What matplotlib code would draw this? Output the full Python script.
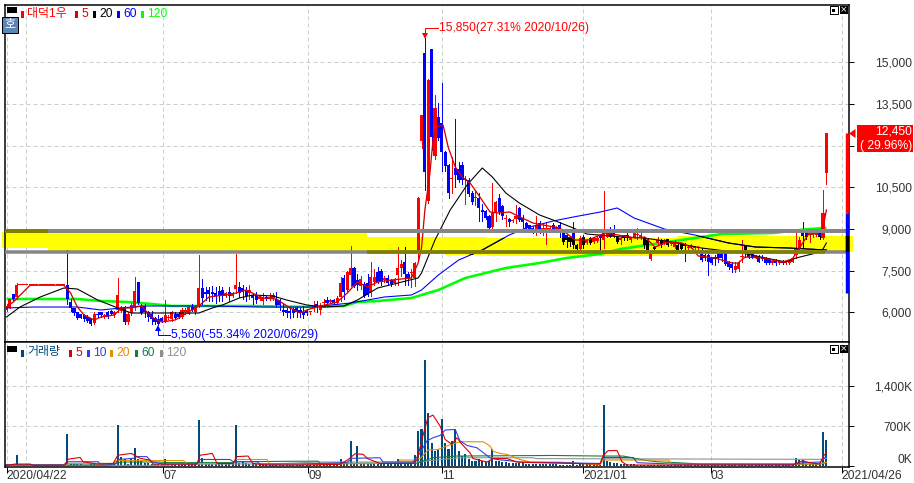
import numpy as np
import matplotlib
matplotlib.use('Agg')
import matplotlib.pyplot as plt
import matplotlib.transforms as mtransforms
from matplotlib.patches import Rectangle, Polygon

W, H = 914, 483
PX = 0.72  # one pixel in points at dpi 100

opens = [6100, 6150, 6650, 6550, 6980, 6980, 6980, 6980, 6980, 6980,
         6980, 6980, 6980, 6980, 6980, 6980, 6980, 6980, 6980, 6380,
         6150, 6000, 5950, 5900, 5850, 5800, 5620, 5950, 6000, 5850,
         6000, 6050, 5900, 6100, 6050, 6200, 5650, 5980, 6250, 7100,
         6250, 6250, 6000, 5950, 5800, 5750, 5800, 5700, 5800, 5750,
         5950, 5950, 5850, 6000, 5950, 6200, 6000, 6270, 6880, 6750,
         6800, 6750, 6700, 6780, 6800, 6600, 6750, 6600, 6830, 6930,
         6870, 6780, 6690, 6630, 6630, 6500, 6420, 6570, 6500, 6510,
         6500, 6450, 6100, 6090, 6050, 6110, 6150, 6090, 6030, 6050,
         6000, 6150, 6300, 6100, 6330, 6450, 6390, 6450, 6350, 6570,
         7230, 6800, 7350, 7590, 7170, 6950, 7010, 7050, 6690, 7110,
         7470, 7500, 7150, 7230, 7170, 7070, 7340, 7590, 7820, 7400,
         7410, 7230, 8230, 12150, 15320, 10000, 15470, 11620, 13030, 12800,
         11760, 11300, 10790, 11200, 11150, 11300, 10750, 10750, 10300, 10100,
         10100, 9700, 9650, 9450, 9060, 9600, 10110, 9820, 9370, 9350,
         9280, 9350, 9750, 9380, 9210, 9130, 9050, 8900, 9200, 9000,
         9000, 8980, 9150, 8980, 9160, 8900, 8780, 8720, 8900, 8420,
         8270, 8720, 8490, 8660, 8550, 8580, 8740, 8600, 8730, 8960,
         8990, 8720, 8600, 8780, 8780, 8600, 8730, 8780, 8700, 8660,
         8600, 7920, 8360, 8490, 8600, 8510, 8630, 8470, 8360, 8420,
         8480, 8450, 8300, 8370, 8300, 8300, 8120, 8050, 8050, 7950,
         8000, 8120, 8120, 8120, 7820, 7760, 7520, 7550, 7990, 8420,
         8120, 8120, 7990, 8000, 8000, 7950, 7910, 7790, 7890, 7770,
         7860, 7780, 7790, 7830, 8070, 8310, 8900, 8850, 8800, 8780,
         8800, 8850, 8690, 11000]
closes = [6250, 6500, 6500, 6980, 6980, 6980, 6980, 6980, 6980, 6980,
          6980, 6980, 6980, 6980, 6980, 6980, 6980, 6980, 6500, 6150,
          5980, 5800, 5800, 5750, 5700, 5600, 5950, 5900, 5900, 5900,
          5850, 5950, 6000, 6630, 6200, 5650, 5950, 6270, 6770, 6340,
          5990, 6000, 5850, 5750, 5650, 5600, 5700, 5900, 5830, 6000,
          5800, 5850, 6100, 6100, 6200, 6100, 6200, 6880, 6520, 6650,
          6650, 6650, 6600, 6600, 6600, 6700, 6600, 6700, 7000, 6700,
          6750, 6590, 6800, 6510, 6450, 6560, 6560, 6480, 6570, 6640,
          6270, 6270, 6000, 5970, 5970, 5970, 6000, 5970, 5900, 5970,
          6030, 6200, 6180, 6200, 6390, 6350, 6450, 6350, 6510, 7070,
          6750, 7470, 7590, 6950, 6990, 7190, 6590, 6630, 7290, 7290,
          7110, 7140, 7230, 7050, 7010, 7170, 7590, 7740, 7380, 7190,
          7430, 7790, 10110, 13100, 11050, 14350, 12300, 13350, 12270, 11760,
          11260, 10290, 10830, 10950, 10750, 10750, 10780, 10260, 9970, 10150,
          9750, 9600, 9400, 9050, 9580, 9970, 9600, 9480, 9410, 9250,
          9330, 9480, 9330, 9250, 9050, 8950, 8900, 9130, 8900, 9050,
          9050, 9050, 8950, 9050, 8950, 8550, 8600, 8540, 8420, 8270,
          8690, 8420, 8600, 8490, 8660, 8690, 8690, 8870, 8870, 8720,
          8750, 8540, 8680, 8660, 8660, 8660, 8870, 8800, 8790, 8420,
          8250, 8130, 8270, 8600, 8420, 8600, 8420, 8510, 8540, 8240,
          8270, 8400, 8340, 8400, 8330, 8330, 7890, 7950, 7820, 7790,
          7910, 7950, 7950, 7760, 7650, 7590, 7670, 7790, 8040, 8240,
          8000, 8000, 8030, 7830, 7940, 7770, 7790, 7860, 7770, 7820,
          7790, 7830, 7870, 7950, 8300, 8600, 8750, 8730, 8840, 8840,
          8840, 8730, 9590, 12450]
highs = [6300, 6500, 6650, 7050, 6980, 6980, 6980, 6980, 6980, 6980,
         6980, 6980, 6980, 6980, 6980, 6980, 6980, 6980, 8250, 6500,
         6150, 6000, 5950, 5950, 5900, 5800, 6000, 6000, 6000, 5950,
         6050, 6100, 6050, 7240, 6250, 6250, 6000, 6350, 7280, 7100,
         6300, 6300, 6050, 6050, 5850, 5900, 5850, 6450, 5900, 6050,
         6000, 6000, 6150, 6150, 6250, 6300, 6250, 8060, 7200, 6900,
         6900, 6950, 6900, 6950, 6900, 6750, 6900, 6750, 8100, 7100,
         7000, 6900, 7000, 6650, 6750, 6600, 6700, 6600, 6700, 6700,
         6750, 6500, 6300, 6150, 6200, 6150, 6200, 6150, 6250, 6100,
         6050, 6400, 6400, 6350, 6500, 6550, 6500, 6500, 6600, 7280,
         7350, 7500, 8390, 7650, 7400, 7300, 7100, 7400, 7800, 7550,
         7650, 7550, 7300, 7350, 7200, 7250, 8340, 7900, 8340, 7450,
         7550, 7800, 10150, 13100, 15850, 14400, 15470, 13800, 13530, 14250,
         11800, 11350, 11600, 12950, 11400, 11400, 10900, 10850, 10350, 10400,
         10300, 9900, 9700, 9500, 10650, 10000, 10250, 9850, 9500, 9400,
         9350, 9880, 9800, 9500, 9250, 9150, 9100, 9450, 9300, 9200,
         9250, 9100, 9200, 9100, 9250, 8950, 8800, 8750, 9260, 8450,
         8750, 8800, 8650, 8700, 8700, 8750, 8800, 10370, 8950, 9080,
         9140, 8750, 8720, 8800, 8850, 8700, 8950, 9050, 8850, 8700,
         8650, 8150, 8400, 8700, 8650, 8650, 8650, 8550, 8600, 8450,
         8500, 8480, 8400, 8450, 8400, 8380, 8300, 8100, 8100, 8000,
         8050, 8130, 8150, 8150, 7850, 7800, 7800, 7800, 8600, 8440,
         8150, 8150, 8050, 8050, 8050, 8000, 7950, 7900, 7920, 7850,
         7880, 7850, 7900, 7980, 8840, 8700, 9260, 8900, 8880, 8880,
         8880, 8880, 10400, 12450]
lows = [6050, 6150, 6450, 6500, 6980, 6980, 6980, 6980, 6980, 6980,
        6980, 6980, 6980, 6980, 6980, 6980, 6980, 6980, 6300, 6050,
        5900, 5750, 5800, 5700, 5650, 5550, 5600, 5850, 5850, 5800,
        5800, 5900, 5850, 6000, 6000, 5600, 5600, 5900, 6100, 6300,
        5950, 5850, 5700, 5600, 5600, 5560, 5650, 5650, 5750, 5700,
        5750, 5800, 5800, 5950, 5950, 6050, 5950, 6200, 6300, 6450,
        6400, 6400, 6350, 6400, 6400, 6550, 6400, 6550, 6700, 6550,
        6500, 6400, 6500, 6300, 6350, 6450, 6300, 6450, 6450, 6450,
        6200, 6100, 5900, 5850, 5800, 5850, 5850, 5850, 5800, 5900,
        5950, 6050, 6000, 5950, 6250, 6300, 6350, 6300, 6300, 6400,
        6500, 6750, 6950, 6900, 6800, 6850, 6550, 6600, 6600, 7000,
        7050, 7000, 7100, 7000, 6950, 7000, 7000, 7300, 7000, 7000,
        6900, 6950, 7880, 11900, 10400, 9950, 11840, 11500, 12200, 11100,
        11100, 10100, 10300, 10500, 10700, 10600, 9900, 10200, 9900, 9850,
        9300, 9300, 9350, 9000, 9000, 9300, 9550, 9350, 9100, 9100,
        9250, 9200, 9300, 9000, 9000, 8900, 8850, 8800, 8850, 8800,
        8450, 8900, 8900, 8900, 8700, 8450, 8350, 8400, 8330, 8250,
        8250, 8300, 8450, 8450, 8500, 8550, 8240, 8300, 8700, 8700,
        8700, 8500, 8450, 8600, 8600, 8550, 8700, 8650, 8650, 8300,
        8200, 7900, 8200, 8450, 8350, 8450, 8400, 8430, 8330, 8200,
        8250, 7860, 8250, 8300, 8250, 8250, 7850, 7900, 7350, 7750,
        7700, 7800, 7850, 7700, 7550, 7450, 7450, 7500, 7800, 8000,
        7950, 7950, 7950, 7800, 7900, 7750, 7750, 7750, 7720, 7750,
        7750, 7750, 7750, 7800, 7950, 8280, 8300, 8650, 8550, 8700,
        8750, 8650, 8650, 10600]
volume_k = [30, 25, 30, 190, 8, 8, 8, 8, 8, 8,
            8, 8, 8, 8, 8, 8, 8, 8, 560, 40,
            35, 30, 30, 25, 25, 30, 40, 25, 25, 25,
            20, 25, 75, 717, 160, 130, 40, 120, 310, 130,
            80, 50, 45, 40, 35, 30, 30, 115, 30, 30,
            30, 25, 30, 30, 30, 30, 40, 805, 135, 60,
            50, 50, 40, 40, 40, 30, 30, 30, 717, 60,
            70, 50, 40, 35, 30, 30, 30, 30, 30, 25,
            30, 30, 25, 25, 25, 25, 20, 20, 25, 20,
            20, 20, 25, 25, 25, 25, 30, 25, 50, 130,
            70, 50, 430, 40, 350, 60, 60, 60, 50, 40,
            40, 40, 40, 35, 35, 35, 130, 60, 50, 40,
            50, 200, 620, 640, 1850, 930, 410, 260, 280, 830,
            410, 290, 440, 650, 260, 175, 205, 115, 90, 90,
            115, 90, 70, 90, 290, 90, 90, 70, 70, 60,
            60, 50, 50, 50, 40, 40, 35, 35, 35, 35,
            30, 30, 30, 30, 25, 25, 25, 25, 85, 25,
            40, 30, 30, 30, 25, 25, 25, 1067, 93, 70,
            60, 50, 40, 40, 30, 30, 30, 25, 25, 25,
            25, 20, 20, 20, 20, 20, 20, 20, 20, 20,
            20, 20, 15, 15, 15, 15, 15, 15, 15, 15,
            15, 15, 15, 15, 15, 15, 15, 15, 15, 40,
            15, 15, 15, 15, 15, 15, 15, 15, 15, 15,
            15, 15, 15, 30, 135, 100, 100, 30, 30, 30,
            30, 40, 595, 455]

ma5_i = [0, 2, 7, 17, 19, 21, 23, 26, 28, 32, 34, 37, 40, 43, 46, 50, 54, 57, 60, 67, 71, 76, 80, 84, 87, 89, 92, 98,
         101, 104, 107, 110, 114, 120, 122, 123, 124, 125.5, 126.4, 127.6, 129.4, 130.9, 133, 135, 137.4, 140.3,
         143.3, 145.7, 149.2, 152.2, 156, 159, 164, 168.5, 172.4, 177.4, 181.2, 186.3, 189.2, 192.2, 196, 200.2,
         203.2, 205, 210, 215, 216.8, 218.9, 224, 229.9, 232.9, 237.5, 240.5, 242, 243]
ma5_p = [6197, 6377, 6980, 6980, 6700, 6197, 5910, 5730, 5838, 5910, 6162, 6162, 6234, 5838, 5659, 5730, 6018, 6234,
         6557, 6665, 6808, 6521, 6485, 6162, 5982, 6090, 6197, 6377, 6700, 7096, 6916, 7096, 7167, 7240, 7779, 8318,
         9683, 11012, 12198, 12665, 12737, 11946, 11228, 10868, 10653, 10150, 9611, 9575, 9611, 9431, 9216, 9144,
         9036, 8605, 8605, 8856, 8785, 8677, 8713, 8353, 8533, 8497, 8317, 8030, 7958, 7778, 7778, 7994, 7958, 7814,
         7922, 8785, 8856, 9036, 9683]
ma20_i = [0, 4, 10, 17, 21, 27, 33, 37, 48, 57, 61, 64, 69, 73, 79, 83, 89, 94, 100, 104, 110, 116, 122, 123, 127,
          131.5, 136.5, 141, 144, 148, 152, 158, 162, 168, 172, 182.5, 189, 197, 206, 218, 225, 231, 234, 240, 242, 243]
ma20_p = [5838, 6197, 6557, 6880, 6844, 6449, 6162, 5982, 5982, 5982, 6162, 6270, 6521, 6629, 6593, 6449, 6270, 6197,
          6233, 6449, 6880, 7060, 7240, 7419, 8605, 9683, 10581, 11192, 10868, 10293, 9934, 9503, 9323, 9036, 8820,
          8713, 8677, 8533, 8317, 8138, 7958, 7814, 7958, 8138, 8281, 8497]
ma60_i = [0, 8, 21, 28, 40, 50, 60, 76, 90, 102, 112, 120, 123, 128, 134, 141, 149, 154, 162, 168, 176, 181, 186, 195,
          204, 214, 222, 232, 243]
ma60_p = [6162, 6197, 6197, 6090, 6234, 6234, 6234, 6197, 6197, 6341, 6557, 6629, 6808, 7347, 7886, 8245, 8785, 9036,
          9287, 9431, 9611, 9755, 9395, 8999, 8784, 8497, 8353, 8317, 8245]
ma120_i = [0, 21, 28, 36, 43, 49, 72, 90, 100, 104, 110, 120, 125, 128, 136, 148, 158, 166, 176, 182, 192, 202, 212,
           227, 238, 243]
ma120_p = [6485, 6485, 6413, 6377, 6305, 6234, 6234, 6197, 6234, 6377, 6413, 6521, 6701, 6808, 7240, 7599, 7778, 7958,
           8102, 8281, 8461, 8641, 8820, 8856, 8999, 9036]

vma5_i = [0, 2.5, 7, 8, 17.3, 18.3, 21.8, 22.7, 26.8, 31.6, 33, 37, 39.6, 42.5, 43.5, 56.4, 57.4, 61, 62.4, 67.2, 68.3,
          71.6, 73, 77, 87, 98.8, 101.3, 103.3, 105.7, 107, 110.7, 120.5, 121.7, 123.4, 124.9, 126.4, 128.5, 130, 132,
          133.5, 135, 137.4, 138.3, 142.4, 144.2, 148.3, 151.3, 156, 167.9, 175.9, 176.8, 178.3, 181, 182.4, 183.9,
          205.5, 233, 236, 238, 241, 242.3, 243]
vma5_k = [12, 35, 35, 12, 15, 120, 150, 75, 35, 45, 190, 220, 135, 105, 35, 35, 190, 220, 45, 45, 165, 175, 45, 18, 18,
          30, 115, 215, 205, 130, 45, 45, 115, 525, 850, 890, 700, 465, 380, 495, 380, 230, 130, 70, 130, 130, 70, 60,
          45, 35, 180, 270, 270, 75, 18, 18, 18, 93, 58, 35, 190, 230]
vma10_i = [0, 17, 17.9, 27.2, 27.7, 32.2, 33.1, 37.6, 38.7, 41.6, 43, 46.4, 56.4, 57.4, 66.2, 67.2, 74.2, 75.2, 87,
           100.9, 102.4, 110.7, 111.6, 120.5, 122.6, 124.6, 126.4, 128.5, 130, 133, 134.4, 136.5, 139.4, 143.3, 145.4,
           150.1, 152.2, 175.9, 176.8, 185.7, 186.9, 197.2, 233.1, 236, 241.2, 242.3, 243]
vma10_k = [20, 20, 75, 75, 35, 35, 115, 135, 165, 165, 75, 35, 35, 115, 115, 75, 75, 35, 35, 60, 135, 145, 70, 70, 230,
           440, 495, 535, 630, 640, 440, 360, 320, 145, 115, 85, 70, 45, 150, 150, 58, 35, 30, 58, 70, 135, 170]
vma20_i = [0, 17.9, 18.3, 31.6, 32.7, 52.4, 53.5, 67.2, 67.7, 77.2, 78, 87, 115.7, 116.6, 120.5, 122.6, 124.9, 127.9,
           130.5, 133.5, 135, 141.3, 143.3, 144.2, 146.3, 148.3, 150.1, 152.2, 155.2, 164, 175.9, 176.8, 196.1, 197.3,
           241.1, 242.6, 243]
vma20_k = [18, 18, 47, 47, 95, 95, 45, 45, 115, 115, 35, 35, 45, 105, 105, 130, 280, 290, 350, 410, 425, 425, 350, 260,
           220, 205, 165, 115, 70, 70, 20, 105, 105, 35, 35, 58, 65]
vma60_i = [0, 30, 32, 34, 45, 48, 67, 68, 87, 92.4, 93, 121.6, 126.4, 133.5, 162, 176, 182.8, 188.8, 192.8, 199, 205.6,
           241, 242.6, 243]
vma60_k = [18, 18, 35, 70, 70, 60, 60, 75, 85, 85, 45, 50, 145, 175, 185, 175, 175, 105, 75, 58, 35, 35, 58, 62]
vma120_i = [0, 48, 50, 80, 92, 121, 126.4, 134.4, 156, 157.1, 241, 243]
vma120_k = [12, 12, 30, 40, 70, 70, 100, 145, 145, 130, 117, 135]

# the yellow area somebody drew over the chart, and its two grey lines
band_i = [-1.3, 12.3, 106.8, 130, 142.4, 198.7, 250.9]
band_top = [8892, 8856, 8730, 8713, 8659, 8748, 8748]
band_bottom = [8317, 8210, 8102, 8066, 8041, 8174, 8174]
line_top = 8917
line_bottom = 8185

price_ticks = [6000, 7500, 9000, 10500, 12000, 13500, 15000]
price_labels = ['6,000', '7,500', '9,000', '10,500', '', '13,500', '15,000']
vol_ticks = [0, 700, 1400]
vol_labels = ['0K', '700K', '1,400K']
date_pos = [0, 46.5, 89.5, 129.2, 171, 208.7, 247.5]
date_labels = ['2020/04/22', '07', '09', '11', '2021/01', '03', '2021/04/26']
grid_pos = [0, 5.9, 46.5, 89.5, 129.2, 171, 208.7, 247.5]
range_bar = [12450, 9575, 6700]

plt.rcParams['font.family'] = ['Liberation Sans', 'Noto Sans CJK KR', 'DejaVu Sans']
plt.rcParams['axes.linewidth'] = 1.5 * PX
FS = 12 * PX

fig = plt.figure(figsize=(W / 100, H / 100), dpi=100, facecolor='white')
px = mtransforms.Affine2D().scale(1 / W, -1 / H).translate(0, 1) + fig.transFigure


def panel(top, bottom):
    return fig.add_axes([4.5 / W, 1 - bottom / H, (849 - 4.5) / W, (bottom - top) / H])


ax = panel(4.5, 342)
av = panel(342, 466.5)
for a in (ax, av):
    a.set_xlim(-0.593, 249.7)
    a.yaxis.tick_right()
    for p in grid_pos:
        a.axvline(p, color='#c8d0c8', lw=PX, ls=(0, (4, 3)), zorder=0.5)
ax.set_ylim(4940, 17066)
av.set_ylim(-8, 2170)

# grid
for t in price_ticks:
    ax.axhline(t, color='#c8d0c8', lw=PX, ls=(0, (4, 3)), zorder=0.5)
for t in vol_ticks[1:]:
    av.axhline(t, color='#c8d0c8', lw=PX, ls=(0, (4, 3)), zorder=0.5)

# yellow band, runs a little past the frame on both sides
band = ax.fill_between(band_i, band_bottom, band_top, step='post', color='#ffff00', lw=0, zorder=1, clip_on=False)
band_path = band.get_paths()[0]


def blackened(artist):
    # blue goes black where it sits on the yellow
    artist.set_clip_path(band_path, ax.transData)
    return artist


idx = np.arange(len(opens))
o, c, h, l = map(np.array, (opens, closes, highs, lows))
up = c >= o
body = np.maximum(np.abs(c - o), 36)
base = np.minimum(o, c)
BODY_W = 0.92

ax.plot(ma120_i, ma120_p, color='#00ff00', lw=2.6 * PX, zorder=2, solid_capstyle='butt')

ax.vlines(idx[up], l[up], h[up], color='#ff0000', lw=PX, zorder=3, antialiased=False)
ax.bar(idx[up], body[up], bottom=base[up], width=BODY_W, color='#ff0000', lw=0, zorder=3, antialiased=False)
ax.vlines(idx[~up], l[~up], h[~up], color='#0000ff', lw=PX, zorder=3, antialiased=False)
ax.bar(idx[~up], body[~up], bottom=base[~up], width=BODY_W, color='#0000ff', lw=0, zorder=3, antialiased=False)
blackened(ax.vlines(idx[~up], l[~up], h[~up], color='black', lw=PX, zorder=3.1, antialiased=False))
for rect in ax.bar(idx[~up], body[~up], bottom=base[~up], width=BODY_W, color='black', lw=0, zorder=3.1, antialiased=False):
    blackened(rect)

ax.plot(ma60_i, ma60_p, color='#0000ff', lw=1.1 * PX, zorder=4)
blackened(ax.plot(ma60_i, ma60_p, color='black', lw=1.1 * PX, zorder=4.1)[0])
ax.plot(ma20_i, ma20_p, color='black', lw=1.1 * PX, zorder=4.2)
ax.plot(ma5_i, ma5_p, color='#d80000', lw=1.3 * PX, zorder=4.3)

# grey lines sit over everything, olive where they cross the yellow
ax.axhline(line_top, color='#868686', lw=4 * PX, zorder=5)
ax.axhline(line_bottom, color='#868686', lw=3.5 * PX, zorder=5)
ax.hlines(line_bottom, 106.8, 242.5, color='#808000', lw=3.5 * PX, zorder=5.1)
ax.hlines(line_top, -0.5, 12.3, color='#808000', lw=4 * PX, zorder=5.1)

# bar on the right edge of the price panel
ax.vlines(249.2, range_bar[1], range_bar[0], color='#ff0000', lw=3.4 * PX, zorder=6)
ax.vlines(249.2, range_bar[2], range_bar[1], color='#0000ff', lw=3.4 * PX, zorder=6)
blackened(ax.vlines(249.2, range_bar[2], range_bar[1], color='black', lw=3.4 * PX, zorder=6.1))

# high and low markers
ax.plot([124, 124, 127.9], [15934, 16222, 16222], color='#ff0000', lw=PX, zorder=6)
ax.plot([124], [15950], marker='v', color='#ff0000', ms=5, mew=0, zorder=6)
ax.text(128.3, 16222, '15,850(27.31% 2020/10/26)', color='#ff0000', fontsize=FS, va='center', ha='left')
ax.plot([45, 45, 48.5], [5407, 5191, 5191], color='#0000ff', lw=PX, zorder=6, clip_on=False)
ax.plot([45], [5450], marker='^', color='#0000ff', ms=5, mew=0, zorder=6)
ax.text(48.8, 5191, '5,560(-55.34% 2020/06/29)', color='#0000ff', fontsize=FS, va='center', ha='left')

# volume
av.bar(idx, volume_k, width=0.6, color='#004a80', lw=0, zorder=2, antialiased=False)
av.plot(vma120_i, vma120_k, color='#909090', lw=1.1 * PX, zorder=3)
av.plot(vma60_i, vma60_k, color='#108040', lw=1.1 * PX, zorder=3.1)
av.plot(vma20_i, vma20_k, color='#e09000', lw=1.1 * PX, zorder=3.2)
av.plot(vma10_i, vma10_k, color='#3040e8', lw=1.1 * PX, zorder=3.3)
av.plot(vma5_i, vma5_k, color='#d80000', lw=1.1 * PX, zorder=3.4)

# axes and ticks
ax.set_yticks(price_ticks, price_labels)
av.set_yticks(vol_ticks, vol_labels)
for a in (ax, av):
    a.tick_params(axis='y', which='both', right=True, length=5 * PX, width=PX, pad=(912 - 854) * PX,
                  labelsize=FS, labelcolor='#333333')
    for lab in a.get_yticklabels():
        lab.set_ha('right')
# the 0K label sits just above its tick
av.get_yticklabels()[0].set_va('bottom')
ax.set_xticks([])
av.set_xticks(date_pos, date_labels, ha='left')
av.tick_params(axis='x', length=6 * PX, width=PX, pad=-1.5, labelsize=FS, labelcolor='#333333')

# price box
fig.add_artist(Rectangle((857, 125), 56, 27, transform=px, color='#ff0000', lw=0))
fig.add_artist(Polygon([(849, 133.5), (855.5, 129), (855.5, 138)], transform=px, color='#ff0000', lw=0))
fig.text(912, 132, '12,450', transform=px, color='white', fontsize=FS, ha='right', va='center')
fig.text(912, 146, '( 29.96%)', transform=px, color='white', fontsize=FS, ha='right', va='center')

# icon with the Korean letter
fig.add_artist(Rectangle((1.5, 16.5), 16, 16, transform=px, facecolor='#5b86b8', edgecolor='black', lw=PX))
fig.text(9.5, 24.5, '호', transform=px, color='white', fontsize=12 * PX, ha='center', va='center')


def legend(y, items):
    fig.add_artist(Rectangle((7, y - 7), 10, 6, transform=px, color='black', lw=0))
    for mark_x, text_x, label, col in items:
        fig.add_artist(Rectangle((mark_x, y - 3), 3, 7, transform=px, color=col, lw=0))
        fig.text(text_x, y, label, transform=px, color=col, fontsize=FS, ha='left', va='center')


legend(14, [(21, 27, '대덕1우', '#ff0000'), (75, 81, '5', '#d80000'), (93, 99, '20', '#000000'),
            (117, 123, '60', '#0000ff'), (141, 147, '120', '#00ff00')])
legend(352.5, [(21, 27, '거래량', '#004a80'), (69, 75, '5', '#d80000'), (87, 93, '10', '#3040e8'),
               (110, 116, '20', '#e09000'), (135, 141, '60', '#108040'), (160, 166, '120', '#909090')])


def window_buttons(y):
    fig.add_artist(Rectangle((829.5, y), 8, 8, transform=px, facecolor='white', edgecolor='black', lw=PX))
    fig.add_artist(Rectangle((832, y + 2.5), 3, 3, transform=px, color='black', lw=0))
    fig.add_artist(Rectangle((839.5, y), 8, 8, transform=px, color='black', lw=0))
    fig.text(843.5, y + 4, '×', transform=px, color='white', fontsize=9 * PX, ha='center', va='center',
             family='DejaVu Sans')


window_buttons(6)
window_buttons(345)

fig.savefig('out.png', dpi=100)
